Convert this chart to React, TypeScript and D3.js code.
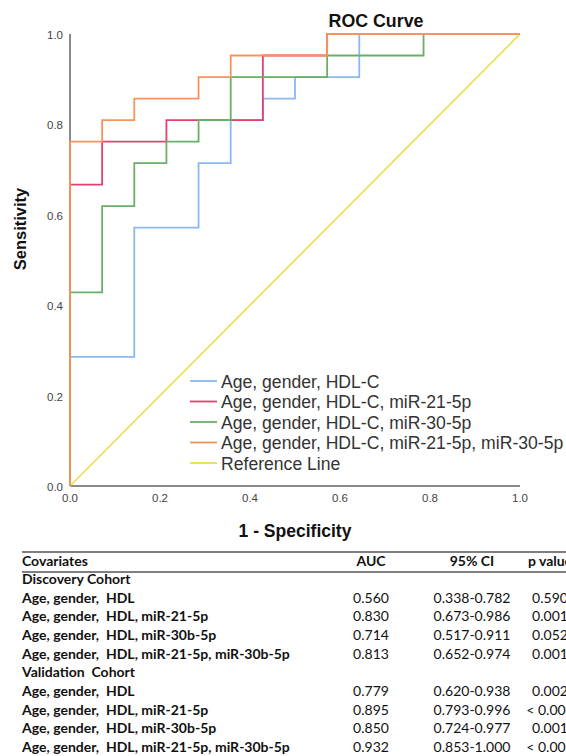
import { useEffect, useRef } from 'react';
import * as d3 from 'd3';

// ROC step curves: x in 1/14 units (1 - specificity), y in 1/21 units (sensitivity)
const blueX = [0, 0, 2, 2, 4, 4, 5, 5, 6, 6, 7, 7, 9, 9, 14];
const blueY = [0, 6, 6, 12, 12, 15, 15, 17, 17, 18, 18, 19, 19, 21, 21];
const redX = [0, 0, 1, 1, 3, 3, 6, 6, 8, 8, 14];
const redY = [0, 14, 14, 16, 16, 17, 17, 20, 20, 21, 21];
const greenX = [0, 0, 1, 1, 2, 2, 3, 3, 4, 4, 5, 5, 8, 8, 11, 11, 14];
const greenY = [0, 9, 9, 13, 13, 15, 15, 16, 16, 17, 17, 19, 19, 20, 20, 21, 21];
const orangeX = [0, 0, 1, 1, 2, 2, 4, 4, 5, 5, 8, 8, 14];
const orangeY = [0, 16, 16, 17, 17, 18, 18, 19, 19, 20, 20, 21, 21];

const seriesNames = [
  'Age, gender, HDL-C',
  'Age, gender, HDL-C, miR-21-5p',
  'Age, gender, HDL-C, miR-30-5p',
  'Age, gender, HDL-C, miR-21-5p, miR-30-5p',
  'Reference Line',
];
const seriesColors = ['#8ab8f0', '#e2416b', '#6aaf68', '#f7935c', '#e6df4a'];

const tickValues = [0, 0.2, 0.4, 0.6, 0.8, 1.0];

// table
const tableHeaders = ['Covariates', 'AUC', '95% CI', 'p value'];
const covariates = [
  'Discovery Cohort',
  'Age, gender,  HDL',
  'Age, gender,  HDL, miR-21-5p',
  'Age, gender,  HDL, miR-30b-5p',
  'Age, gender,  HDL, miR-21-5p, miR-30b-5p',
  'Validation  Cohort',
  'Age, gender,  HDL',
  'Age, gender,  HDL, miR-21-5p',
  'Age, gender,  HDL, miR-30b-5p',
  'Age, gender,  HDL, miR-21-5p, miR-30b-5p',
];
const aucValues = ['', '0.560', '0.830', '0.714', '0.813', '', '0.779', '0.895', '0.850', '0.932'];
const ciValues = ['', '0.338-0.782', '0.673-0.986', '0.517-0.911', '0.652-0.974', '', '0.620-0.938', '0.793-0.996', '0.724-0.977', '0.853-1.000'];
const pValues = ['', '0.590', '0.001', '0.052', '0.001', '', '0.002', '< 0.001', '0.001', '< 0.001'];

const W = 566;
const H = 756;

const App = () => {
  const svgRef = useRef<SVGSVGElement>(null);

  useEffect(() => {
    const svg = d3.select(svgRef.current);
    svg.selectAll('*').remove();

    const x = d3.scaleLinear().domain([0, 1]).range([70, 520]);
    const y = d3.scaleLinear().domain([0, 1]).range([486, 34]);

    const chartFont = '"Liberation Sans", Arial, sans-serif';

    // title
    svg.append('text')
      .attr('x', 376).attr('y', 27)
      .attr('text-anchor', 'middle')
      .style('font-family', chartFont).style('font-size', '17.8px').style('font-weight', 'bold')
      .attr('fill', '#111')
      .text('ROC Curve');

    // axes lines
    svg.append('line')
      .attr('x1', x(0)).attr('x2', x(0)).attr('y1', y(0)).attr('y2', y(1))
      .attr('stroke', '#8a8a8a').attr('stroke-width', 2);
    svg.append('line')
      .attr('x1', x(0)).attr('x2', x(1)).attr('y1', y(0)).attr('y2', y(0))
      .attr('stroke', '#8a8a8a').attr('stroke-width', 2);

    // tick labels
    svg.selectAll('.ytick')
      .data(tickValues)
      .enter()
      .append('text')
      .attr('x', 63).attr('y', (d) => y(d) + 5)
      .attr('text-anchor', 'end')
      .style('font-family', chartFont).style('font-size', '11.5px')
      .attr('fill', '#444')
      .text((d) => d.toFixed(1));
    svg.selectAll('.xtick')
      .data(tickValues)
      .enter()
      .append('text')
      .attr('x', (d) => x(d)).attr('y', 502)
      .attr('text-anchor', 'middle')
      .style('font-family', chartFont).style('font-size', '11.5px')
      .attr('fill', '#444')
      .text((d) => d.toFixed(1));

    // axis titles
    svg.append('text')
      .attr('transform', 'translate(26,229) rotate(-90)')
      .attr('text-anchor', 'middle')
      .style('font-family', chartFont).style('font-size', '16.5px').style('font-weight', 'bold')
      .attr('fill', '#111')
      .text('Sensitivity');
    svg.append('text')
      .attr('x', 295).attr('y', 537)
      .attr('text-anchor', 'middle')
      .style('font-family', chartFont).style('font-size', '17.5px').style('font-weight', 'bold')
      .attr('fill', '#111')
      .text('1 - Specificity');

    // curves
    const line = d3.line<[number, number]>()
      .x((d) => x(d[0]))
      .y((d) => y(d[1]));

    svg.append('path')
      .attr('d', line([[0, 0], [1, 1]]))
      .attr('fill', 'none').attr('stroke', seriesColors[4]).attr('stroke-width', 1.6);

    const curves = [
      [blueX, blueY],
      [redX, redY],
      [greenX, greenY],
      [orangeX, orangeY],
    ];
    curves.forEach(([xs, ys], i) => {
      const pts = xs.map((v, k) => [v / 14, ys[k] / 21] as [number, number]);
      svg.append('path')
        .attr('d', line(pts))
        .attr('fill', 'none')
        .attr('stroke', seriesColors[i])
        .attr('stroke-width', 1.8)
        .attr('stroke-linejoin', 'miter');
    });

    // legend
    const legend = svg.append('g').attr('transform', 'translate(190,381)');
    seriesNames.forEach((name, i) => {
      const g = legend.append('g').attr('transform', `translate(0,${i * 20.5})`);
      g.append('line')
        .attr('x1', 0).attr('x2', 27).attr('y1', 0).attr('y2', 0)
        .attr('stroke', seriesColors[i]).attr('stroke-width', 1.8);
      g.append('text')
        .attr('x', 31).attr('y', 6.5)
        .style('font-family', chartFont).style('font-size', '17.6px')
        .attr('fill', '#333')
        .text(name);
    });

    // table
    const tableFont = 'Lato, "Open Sans", sans-serif';
    const rowY = d3.scalePoint<number>()
      .domain(d3.range(covariates.length))
      .range([584, 752]);

    svg.append('line')
      .attr('x1', 22).attr('x2', W).attr('y1', 552).attr('y2', 552)
      .attr('stroke', '#555').attr('stroke-width', 1.6);
    svg.append('line')
      .attr('x1', 22).attr('x2', W).attr('y1', 572).attr('y2', 572)
      .attr('stroke', '#555').attr('stroke-width', 1.6);

    const colX = [22, 371, 472, 550];
    const colAnchor = ['start', 'middle', 'middle', 'middle'];
    tableHeaders.forEach((h, i) => {
      svg.append('text')
        .attr('x', colX[i]).attr('y', 566)
        .attr('text-anchor', colAnchor[i])
        .style('font-family', tableFont).style('font-size', '14px').style('font-weight', 'bold')
        .attr('fill', '#111')
        .text(h);
    });

    const rows = svg.selectAll('.row')
      .data(d3.range(covariates.length))
      .enter()
      .append('g');

    rows.append('text')
      .attr('x', colX[0]).attr('y', (d) => rowY(d) as number)
      .style('font-family', tableFont).style('font-size', '14px').style('font-weight', 'bold')
      .style('white-space', 'pre')
      .attr('fill', '#111')
      .text((d) => covariates[d]);
    [aucValues, ciValues, pValues].forEach((vals, c) => {
      rows.append('text')
        .attr('x', colX[c + 1]).attr('y', (d) => rowY(d) as number)
        .attr('text-anchor', 'middle')
        .style('font-family', tableFont).style('font-size', '14px')
        .attr('fill', '#111')
        .text((d) => vals[d]);
    });
  }, []);

  return (
    <svg
      ref={svgRef}
      width={W}
      height={H}
      style={{ position: 'absolute', left: 0, top: 0, background: '#fff' }}
    />
  );
};

export default App;
